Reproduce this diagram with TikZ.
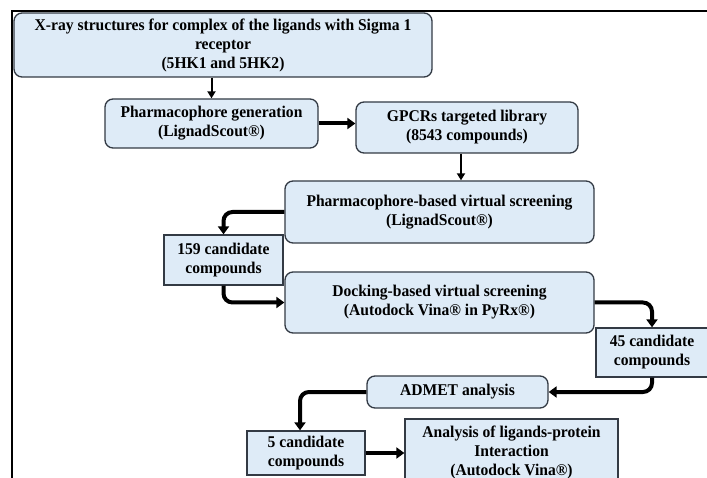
\documentclass[tikz,border=0pt]{standalone}
\usepackage{fontspec}
\setmainfont[FakeStretch=0.95]{Liberation Serif}
\usetikzlibrary{arrows.meta}
\definecolor{boxfill}{HTML}{DEEBF7}
\definecolor{boxline}{HTML}{333A44}
\begin{document}
\begin{tikzpicture}[x=1pt,y=-1pt,
  base/.style={draw=boxline,line width=1.3pt,fill=boxfill,align=center,inner sep=0pt,
    font=\bfseries\fontsize{16.4}{19}\selectfont},
  rbox/.style={base,rounded corners=8pt},
  sbox/.style={base},
  thinarr/.style={line width=2pt,-{Triangle[width=8pt,length=7pt]}},
  thickarr/.style={line width=4pt,rounded corners=9pt,-{Triangle[width=11pt,length=8pt]}}
]
\useasboundingbox (0,0) rectangle (707,478);
\clip (0,0) rectangle (707,478);
% frame
\draw[line width=2pt] (707,11) -- (12,11) -- (12,480);
% boxes
\node[rbox,minimum width=418pt,minimum height=64pt] (b1) at (223,45)
  {X-ray structures for complex of the ligands with Sigma 1\\receptor\\(5HK1 and 5HK2)};
\node[rbox,minimum width=213pt,minimum height=49pt] (b2) at (211.5,123.5)
  {Pharmacophore generation\\(LignadScout®)};
\node[rbox,minimum width=222pt,minimum height=51pt] (b3) at (467,127.5)
  {GPCRs targeted library\\(8543 compounds)};
\node[rbox,minimum width=309pt,minimum height=62pt] (b4) at (439.5,212)
  {Pharmacophore-based virtual screening\\(LignadScout®)};
\node[sbox,minimum width=119pt,minimum height=50pt] (b5) at (223.5,260)
  {159 candidate\\compounds};
\node[rbox,minimum width=309pt,minimum height=61pt] (b6) at (439.5,302.5)
  {Docking-based virtual screening\\(Autodock Vina® in PyRx®)};
\node[sbox,minimum width=112pt,minimum height=49pt] (b7) at (652,352.5)
  {45 candidate\\compounds};
\node[rbox,minimum width=181pt,minimum height=32pt] (b8) at (457.5,392)
  {ADMET analysis};
\node[sbox,minimum width=118pt,minimum height=44pt] (b9) at (306,453)
  {5 candidate\\compounds};
\node[sbox,minimum width=213pt,minimum height=66pt] (b10) at (511.5,452)
  {Analysis of ligands-protein\\Interaction\\(Autodock Vina®)};
% connectors
\draw[thinarr] (b2.north |- b1.south) -- (b2.north);
\draw[line width=4pt,-{Triangle[width=11pt,length=8pt]}] (b2.east) -- (b3.west |- b2.east);
\draw[thinarr] ([xshift=-6pt]b3.south) -- ([xshift=-6pt]b3.south |- b4.north);
\draw[thickarr] (b4.west) -| (b5.north);
\draw[thickarr] (b5.south) |- (b6.west);
\draw[thickarr] (b6.east) -| (b7.north);
\draw[thickarr] (b7.south) |- (b8.east);
\draw[thickarr] (b8.west) -| ([xshift=-6pt]b9.north);
\draw[line width=4pt,-{Triangle[width=11pt,length=8pt]}] (b9.east) -- (b10.west |- b9.east);
\end{tikzpicture}
\end{document}
